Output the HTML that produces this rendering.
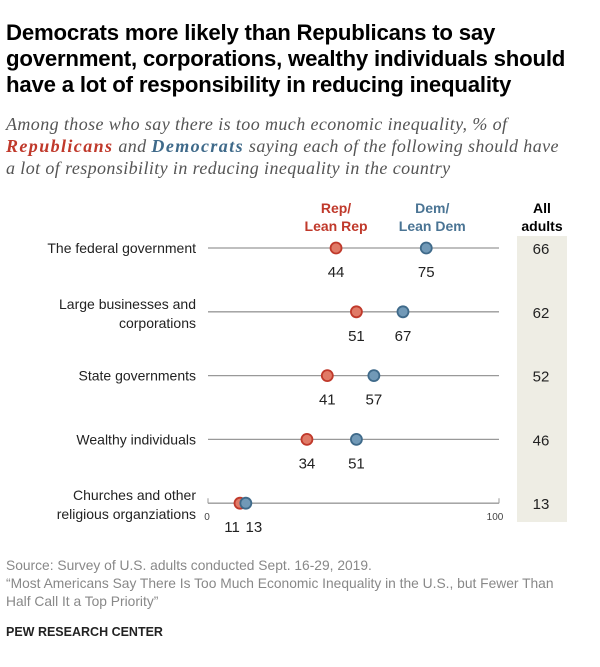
<!DOCTYPE html>
<html><head><meta charset="utf-8"><style>
body{margin:0;background:#fff;width:600px;height:667px;overflow:hidden;font-family:"Liberation Sans",Arial,sans-serif}
.t{position:absolute;left:6px;top:20px;font-size:22.2px;font-weight:bold;line-height:26px;color:#000;letter-spacing:-0.2px;white-space:nowrap}
.s{position:absolute;left:6px;top:113px;font-size:18px;letter-spacing:0.4px;font-style:italic;color:#555;line-height:22px;font-family:"Liberation Serif",serif;white-space:nowrap}
.s b{letter-spacing:1.4px}
.s b.r{color:#c0392b}.s b.d{color:#3f6a8a}
.f{position:absolute;left:6px;font-size:13.8px;color:#888;line-height:17.5px;white-space:nowrap}
</style></head><body>
<div class="t">Democrats more likely than Republicans to say<br>government, corporations, wealthy individuals should<br>have a lot of responsibility in reducing inequality</div>
<div class="s">Among those who say there is too much economic inequality, % of<br><b class="r">Republicans</b> and <b class="d">Democrats</b> saying each of the following should have<br>a lot of responsibility in reducing inequality in the country</div>
<svg id="c" width="600" height="667" style="position:absolute;left:0;top:0" font-family="Liberation Sans, Arial, sans-serif"></svg>
<div class="f" style="top:557px">Source: Survey of U.S. adults conducted Sept. 16-29, 2019.</div>
<div class="f" style="top:575px">“Most Americans Say There Is Too Much Economic Inequality in the U.S., but Fewer Than<br>Half Call It a Top Priority”</div>
<div style="position:absolute;left:6px;top:625px;font-size:12.5px;font-weight:bold;color:#222">PEW RESEARCH CENTER</div>
<script>
const categories=[["The federal government"],["Large businesses and","corporations"],["State governments"],["Wealthy individuals"],["Churches and other","religious organziations"]];
const repValues=[44,51,41,34,11];
const demValues=[75,67,57,51,13];
const allValues=[66,62,52,46,13];
const svg=document.getElementById('c');const NS='http://www.w3.org/2000/svg';
function x(v){return 208+v*2.91;}
function y(i){return 248+i*63.8;}
function mk(t,a,txt,name){const e=document.createElementNS(NS,t);for(const k in a)e.setAttribute(k,a[k]);if(txt!=null)e.textContent=txt;


svg.appendChild(e);return e;}
mk('rect',{x:517,y:236,width:50,height:286,fill:'#eeede4'},null,'all-adults-column');
mk('text',{x:542,y:213,'text-anchor':'middle','font-size':14,'font-weight':'bold',fill:'#000'},'All','all-adults-header');
mk('text',{x:542,y:231,'text-anchor':'middle','font-size':14,'font-weight':'bold',fill:'#000'},'adults','all-adults-header');
mk('text',{x:x(44),y:213,'text-anchor':'middle','font-size':14,'font-weight':'bold',fill:'#c0392b'},'Rep/','rep-legend');
mk('text',{x:x(44),y:231,'text-anchor':'middle','font-size':14,'font-weight':'bold',fill:'#c0392b'},'Lean Rep','rep-legend');
mk('text',{x:x(75)+6,y:213,'text-anchor':'middle','font-size':14,'font-weight':'bold',fill:'#4a7494'},'Dem/','dem-legend');
mk('text',{x:x(75)+6,y:231,'text-anchor':'middle','font-size':14,'font-weight':'bold',fill:'#4a7494'},'Lean Dem','dem-legend');
categories.forEach((c,i)=>{const yy=y(i);
 mk('line',{x1:x(0),x2:x(100),y1:yy,y2:yy,stroke:'#999','stroke-width':1.3},null,'row-line');
 if(c.length==1)mk('text',{x:196,y:yy+5,'text-anchor':'end','font-size':14,fill:'#222'},c[0],'category-label');
 else{mk('text',{x:196,y:yy-3,'text-anchor':'end','font-size':14,fill:'#222'},c[0],'category-label');
 mk('text',{x:196,y:yy+16,'text-anchor':'end','font-size':14,fill:'#222'},c[1],'category-label');}
 mk('circle',{cx:x(repValues[i]),cy:yy,r:5.5,fill:'#e07a67',stroke:'#c0392b','stroke-width':1.8},null,'rep-dot');
 mk('circle',{cx:x(demValues[i]),cy:yy,r:5.5,fill:'#7199b7',stroke:'#3f6a8a','stroke-width':1.8},null,'dem-dot');
 const close=Math.abs(demValues[i]-repValues[i])<5;
 mk('text',{x:x(repValues[i])-(close?8:0),y:yy+29,'text-anchor':'middle','font-size':15,fill:'#222'},repValues[i],'rep-value-label');
 mk('text',{x:x(demValues[i])+(close?8:0),y:yy+29,'text-anchor':'middle','font-size':15,fill:'#222'},demValues[i],'dem-value-label');
 mk('text',{x:541,y:yy+6,'text-anchor':'middle','font-size':15,fill:'#222'},allValues[i],'all-adults-value');
});
const ly=y(4);
mk('line',{x1:x(0),x2:x(0),y1:ly-5,y2:ly,stroke:'#999'},null,'axis-tick');
mk('line',{x1:x(100),x2:x(100),y1:ly-5,y2:ly,stroke:'#999'},null,'axis-tick');
mk('text',{x:x(0)-1,y:ly+17,'text-anchor':'middle','font-size':10,fill:'#444'},'0','axis-tick-label');
mk('text',{x:x(100)-4,y:ly+17,'text-anchor':'middle','font-size':10,fill:'#444'},'100','axis-tick-label');
</script>
</body></html>
